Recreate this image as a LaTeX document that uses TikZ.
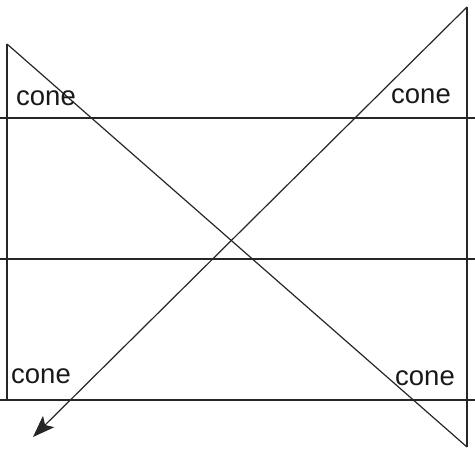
\documentclass[tikz,border=0pt]{standalone}
\usepackage{fontspec}
\setmainfont{Liberation Sans}
\usetikzlibrary{arrows.meta}
\begin{document}
\begin{tikzpicture}[x=1pt,y=-1pt,
  ln/.style={line width=1.2pt,draw=black!85},
  lbl/.style={font=\fontsize{27.5}{30}\selectfont,inner sep=0pt,text=black!90}]
\useasboundingbox (0,0) rectangle (475,455);
% endpoints
\coordinate (tl) at (7,44);
\coordinate (bl) at (7,400);
\coordinate (tr) at (467,7);
\coordinate (br) at (467,447);
\coordinate (tip) at (33,437);
\coordinate (h1a) at (0,118);
\coordinate (h1b) at (475,118);
\coordinate (h2a) at (0,259);
\coordinate (h2b) at (475,259);
\coordinate (h3a) at (0,400);
\coordinate (h3b) at (475,400);
% frame lines
\draw[ln] (tl) -- (bl);
\draw[ln] (tr) -- (br);
\draw[ln] (h1a) -- (h1b);
\draw[ln] (h2a) -- (h2b);
\draw[ln] (h3a) -- (h3b);
% diagonals
\draw[ln] (tl) -- (br);
\draw[ln,-{Stealth[length=22pt,width=16pt,inset=5pt]}] (tr) -- (tip);
% labels
\node[lbl] (c1) at (46,98) {cone};
\node[lbl] (c2) at (421,96) {cone};
\node[lbl] (c3) at (41,376) {cone};
\node[lbl] (c4) at (425,378) {cone};
\end{tikzpicture}
\end{document}
